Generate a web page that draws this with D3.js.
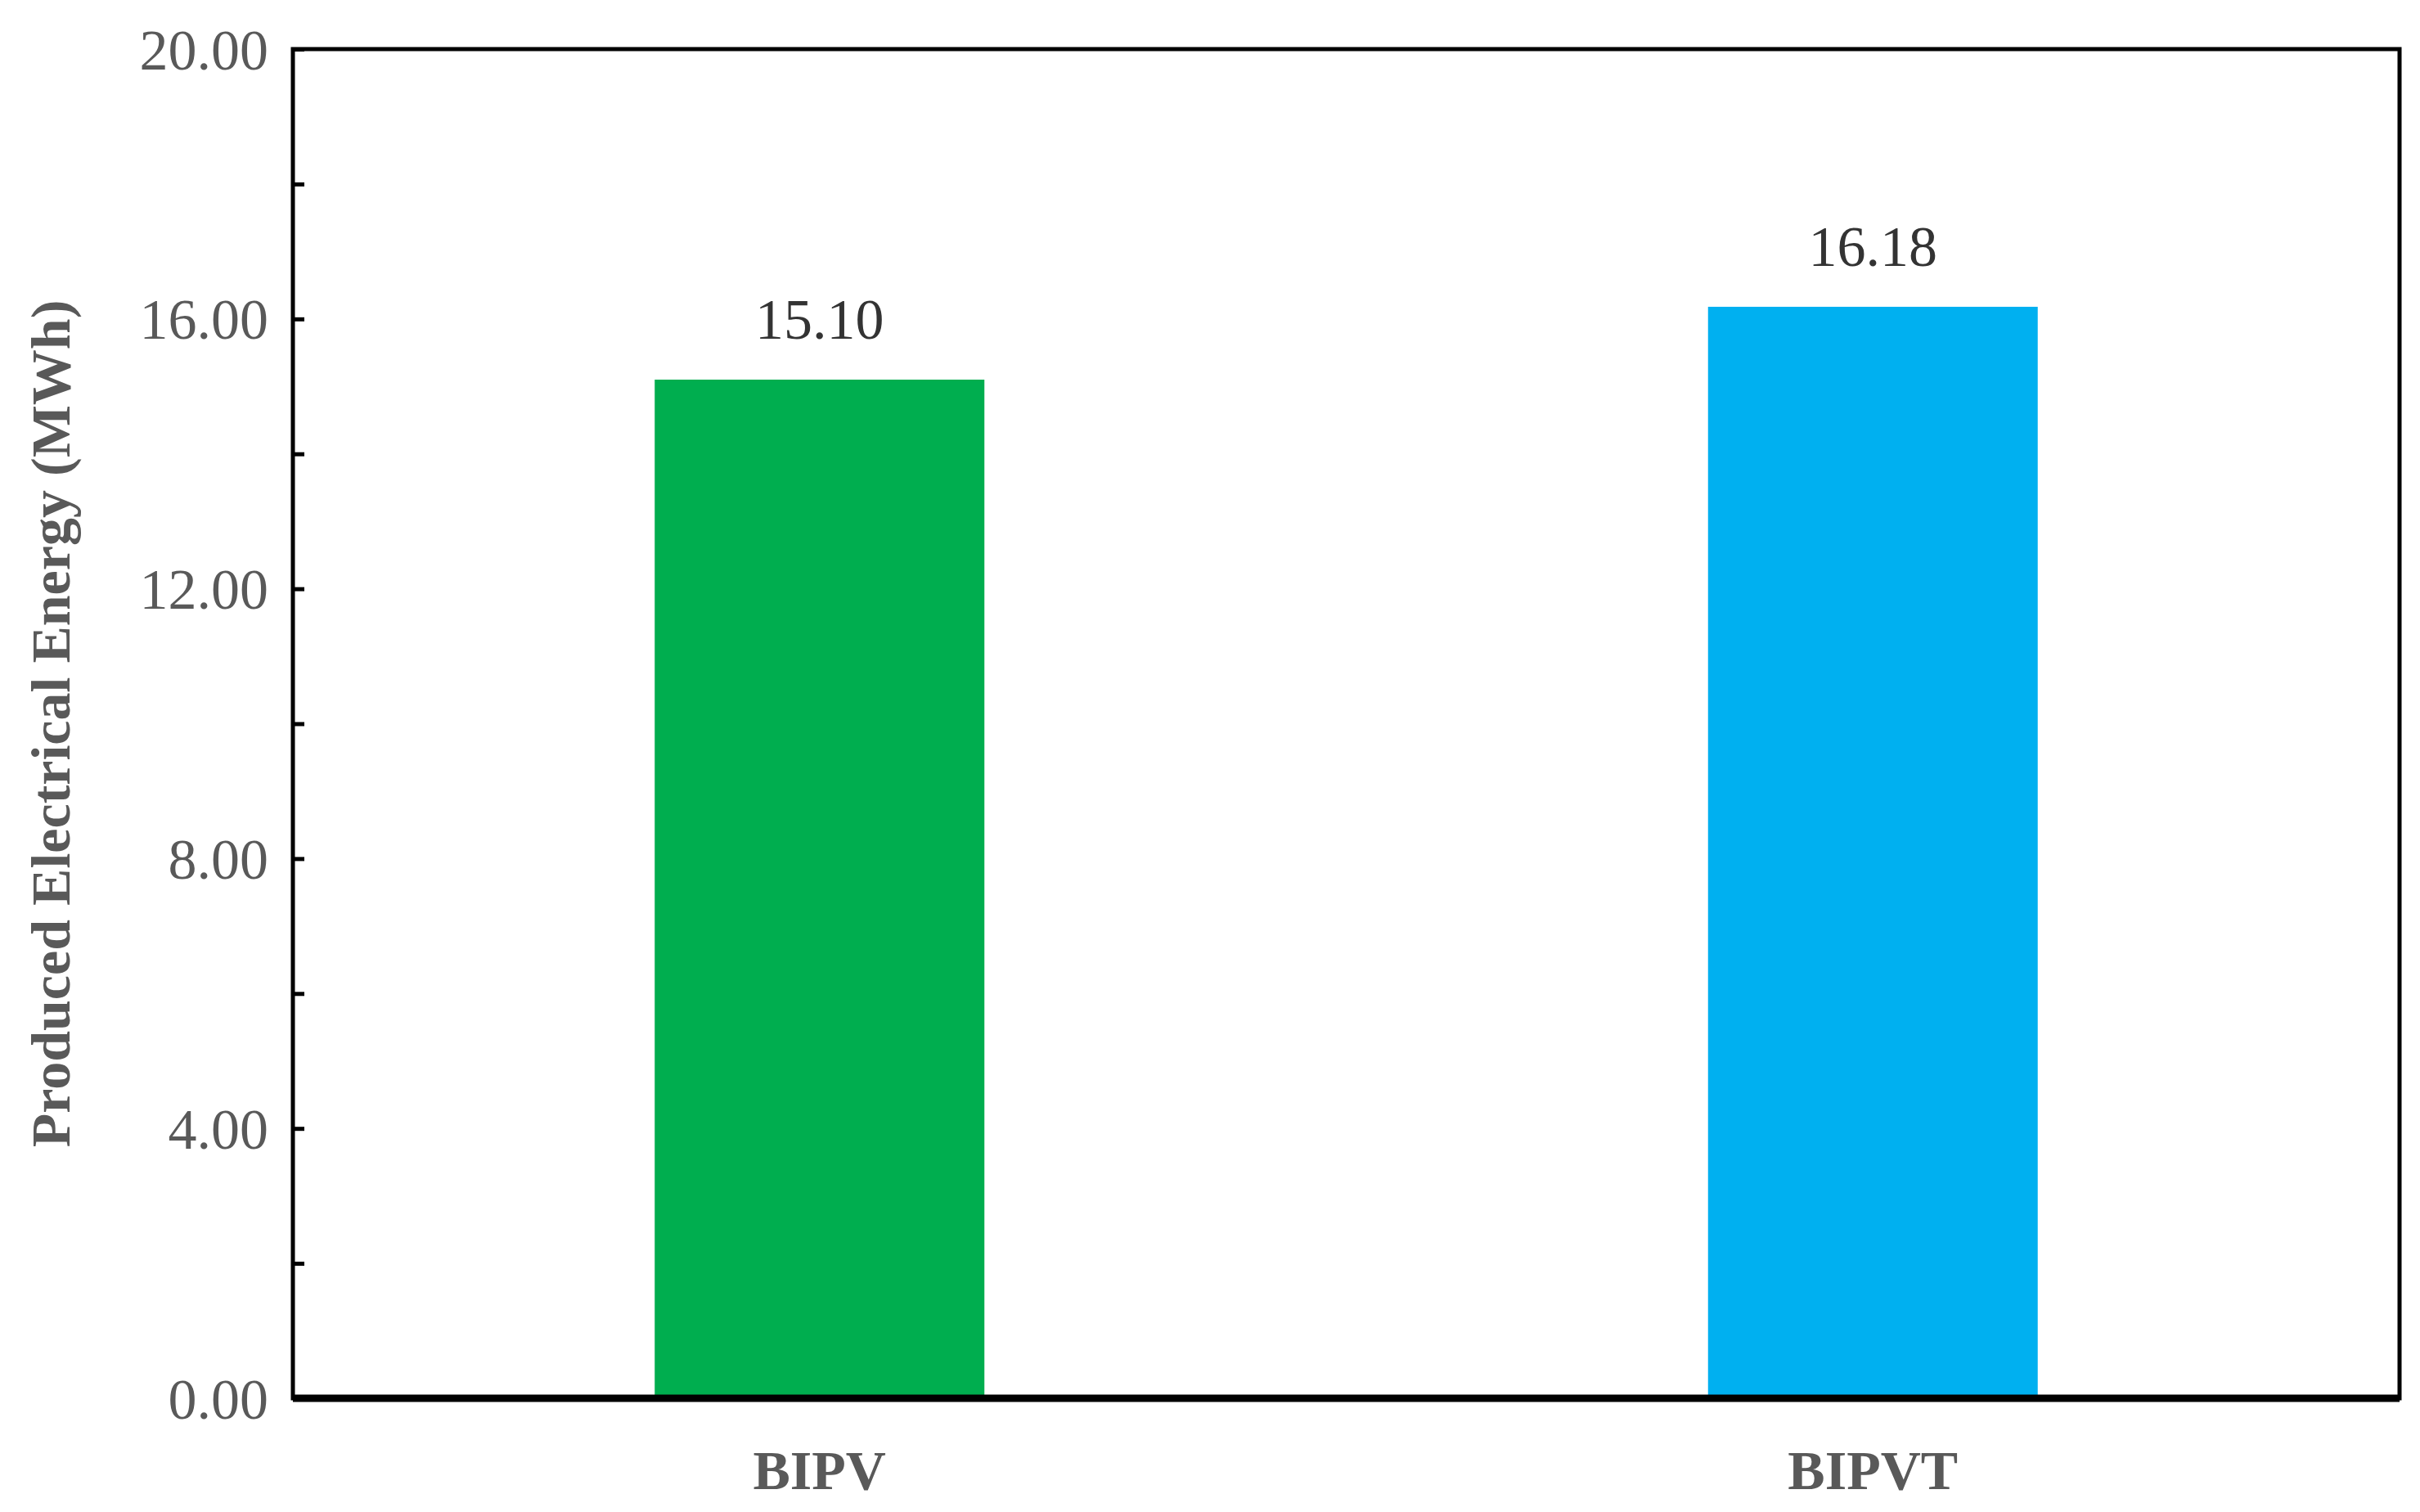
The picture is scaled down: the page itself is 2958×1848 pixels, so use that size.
<!DOCTYPE html>
<html><head><meta charset="utf-8">
<script src="https://cdn.jsdelivr.net/npm/d3@7"></script>
<style>body{margin:0;background:#fff}</style></head>
<body><svg id="c" width="2958" height="1848"></svg>
<script>
const categories = ["BIPV", "BIPVT"];
const values = [15.10, 16.18];
const colors = ["#00AE4F", "#00B0F0"];
const yTicks = [0, 4, 8, 12, 16, 20];

const svg = d3.select("#c");
const L = 358, R = 2933, T = 60, B = 1709;
const font = "'Liberation Serif','Times New Roman',serif";
const x = d3.scalePoint().domain(categories).range([L, R]).padding(0.5);
const step = x.step();
const bw = step * 0.313;
const y = d3.scaleLinear().domain([0, 20]).range([B, T]);

svg.selectAll("rect.bar").data(values).enter().append("rect")
  .attr("x", (d, i) => x(categories[i]) - bw / 2)
  .attr("y", d => y(d)).attr("width", bw).attr("height", d => B - y(d))
  .attr("fill", (d, i) => colors[i]);

svg.selectAll("text.val").data(values).enter().append("text")
  .attr("x", (d, i) => x(categories[i])).attr("y", d => y(d) - 50)
  .attr("text-anchor", "middle").attr("font-family", font).attr("font-size", 70)
  .attr("fill", "#333").text(d => d.toFixed(2));

// frame
svg.append("rect").attr("x", L).attr("y", T).attr("width", R - L).attr("height", B - T)
  .attr("fill", "none").attr("stroke", "#000").attr("stroke-width", 5);
svg.append("line").attr("x1", L).attr("x2", R).attr("y1", B).attr("y2", B)
  .attr("stroke", "#000").attr("stroke-width", 9);

// y axis
const yAxis = d3.axisLeft(y).tickValues(d3.range(0, 21, 2)).tickSize(-14).tickFormat("");
const ga = svg.append("g").attr("transform", `translate(${L},0)`).call(yAxis);
ga.select(".domain").remove();
ga.selectAll("line").attr("stroke", "#000").attr("stroke-width", 5);
svg.selectAll("text.yt").data(yTicks).enter().append("text")
  .attr("x", L - 30).attr("y", d => y(d)).attr("dy", "0.35em").attr("text-anchor", "end")
  .attr("font-family", font).attr("font-size", 70).attr("fill", "#595959")
  .text(d => d.toFixed(2));

// x labels
svg.selectAll("text.xl").data(categories).enter().append("text")
  .attr("x", d => x(d)).attr("y", 1820).attr("text-anchor", "middle")
  .attr("font-family", font).attr("font-size", 68).attr("font-weight", "bold")
  .attr("fill", "#595959").text(d => d);

svg.append("text").attr("transform", `translate(85,${(T + B) / 2}) rotate(-90)`)
  .attr("text-anchor", "middle").attr("font-family", font).attr("font-size", 68)
  .attr("font-weight", "bold").attr("fill", "#595959")
  .text("Produced Electrical Energy (MWh)");
</script></body></html>
